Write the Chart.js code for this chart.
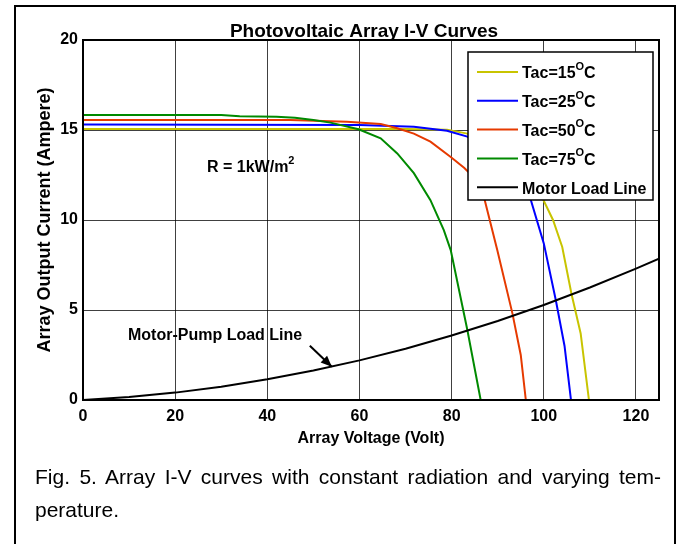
<!DOCTYPE html>
<html>
<head>
<meta charset="utf-8">
<script src="https://cdn.jsdelivr.net/npm/chart.js@4/dist/chart.umd.min.js"></script>
<style>
    body { margin: 0; background: #fff; width: 682px; height: 544px; overflow: hidden; position: relative; }
    .frame { position: absolute; left: 14px; top: 5px; width: 658px; height: 600px; border: 2px solid #000; }
    #chart { position: absolute; left: 0; top: 0; }
    .caption { position: absolute; left: 35px; width: 626px; font-family: 'Liberation Sans', Arial, sans-serif; font-size: 21px; line-height: 24px; color: #000; white-space: nowrap; }
    .justify { text-align: justify; text-align-last: justify; }
</style>
</head>
<body>
<div class="frame"></div>
<canvas id="chart" width="682" height="544"></canvas>
<div class="caption justify" style="top: 465px;">Fig. 5. Array I-V curves with constant radiation and varying tem-</div>
<div class="caption" style="top: 498px;">perature.</div>
<script>
const FONT = "'Liberation Sans', Arial, sans-serif";

// data
const chartTitle = 'Photovoltaic Array I-V Curves';
const xTitle = 'Array Voltage (Volt)';
const yTitle = 'Array Output Current (Ampere)';
const xTicks = [0, 20, 40, 60, 80, 100, 120];
const yTicks = [0, 5, 10, 15, 20];

const temps = [15, 25, 50, 75];
const colors = ['#c8c400', '#0000ff', '#e63a00', '#008a00'];

const volts15 = [0, 60, 70, 79, 83.4, 88, 92, 96, 99, 102, 104, 106, 108, 109.8];
const amps15  = [15.06, 15.06, 15.05, 15.02, 14.8, 14.4, 13.8, 12.8, 11.6, 10.0, 8.5, 5.9, 3.7, 0];

const volts25 = [0, 60, 71.8, 79, 83.4, 87, 91, 94, 97.2, 100, 102.6, 104.5, 105.9];
const amps25  = [15.3, 15.28, 15.18, 14.96, 14.63, 14.1, 13.1, 12.1, 11.1, 8.7, 5.56, 3.0, 0];

const volts50 = [0, 45, 57.3, 64.6, 68.2, 71.8, 75.4, 79.8, 82.7, 86.3, 89.9, 93.2, 95, 96.1];
const amps50  = [15.55, 15.55, 15.46, 15.33, 15.1, 14.8, 14.35, 13.5, 12.9, 12.0, 8.33, 4.8, 2.5, 0];

const volts75 = [0, 30, 34, 42, 46, 50, 53.7, 59.8, 64.6, 68.2, 71.8, 75.4, 78.3, 79.8, 83.4, 86.3];
const amps75  = [15.83, 15.83, 15.76, 15.74, 15.68, 15.55, 15.41, 15.04, 14.54, 13.7, 12.6, 11.1, 9.44, 8.33, 3.9, 0];

const loadVolts = [0, 10, 20, 30, 40, 50, 60, 70, 80, 90, 100, 110, 120, 125];
const loadAmps  = [0, 0.17, 0.41, 0.74, 1.15, 1.64, 2.2, 2.85, 3.58, 4.39, 5.28, 6.25, 7.3, 7.85];

const loadLabel = 'Motor Load Line';
const pumpLabel = 'Motor-Pump Load Line';
const pumpArrowAt = [54, 1.85];

const toPoints = (xs, ys) => xs.map((v, i) => ({ x: v, y: ys[i] }));

const series = [
    toPoints(volts15, amps15),
    toPoints(volts25, amps25),
    toPoints(volts50, amps50),
    toPoints(volts75, amps75)
];

const datasets = series.map((pts, i) => ({
    label: 'Tac=' + temps[i] + 'OC',
    data: pts,
    borderColor: colors[i],
    borderWidth: 2,
    pointRadius: 0,
    tension: 0,
    order: 5 - i
}));
datasets.push({
    label: loadLabel,
    data: toPoints(loadVolts, loadAmps),
    borderColor: '#000',
    borderWidth: 2,
    pointRadius: 0,
    tension: 0,
    order: 0
});

// text with a superscript part
function drawSup(ctx, x, y, main, sup, tail, size) {
    ctx.font = 'bold ' + size + 'px ' + FONT;
    ctx.fillText(main, x, y);
    x += ctx.measureText(main).width;
    ctx.font = 'bold ' + Math.round(size * 0.7) + 'px ' + FONT;
    ctx.fillText(sup, x, y - size * 0.45);
    x += ctx.measureText(sup).width;
    if (tail) {
        ctx.font = 'bold ' + size + 'px ' + FONT;
        ctx.fillText(tail, x, y);
    }
}

const overlay = {
    id: 'overlay',
    afterDatasetsDraw(chart) {
        const { ctx, chartArea: a, scales: { x, y } } = chart;
        ctx.save();

        // axes box
        ctx.strokeStyle = '#000';
        ctx.lineWidth = 2;
        ctx.strokeRect(a.left, a.top, a.right - a.left, a.bottom - a.top);

        // title
        ctx.fillStyle = '#000';
        ctx.textAlign = 'center';
        ctx.textBaseline = 'alphabetic';
        ctx.font = 'bold 19px ' + FONT;
        ctx.fillText(chartTitle, 364, 37);

        // irradiance note
        ctx.textAlign = 'left';
        ctx.textBaseline = 'middle';
        drawSup(ctx, 207, 168, 'R = 1kW/m', '2', '', 16);

        // load line note + arrow
        ctx.font = 'bold 16px ' + FONT;
        ctx.fillText(pumpLabel, 128, 336);
        const tx = x.getPixelForValue(pumpArrowAt[0]);
        const ty = y.getPixelForValue(pumpArrowAt[1]);
        const sx = tx - 22, sy = ty - 21;
        ctx.lineWidth = 2;
        ctx.beginPath();
        ctx.moveTo(sx, sy);
        ctx.lineTo(tx, ty);
        ctx.stroke();
        const ang = Math.atan2(ty - sy, tx - sx);
        ctx.beginPath();
        ctx.moveTo(tx, ty);
        ctx.lineTo(tx - 12 * Math.cos(ang - 0.4), ty - 12 * Math.sin(ang - 0.4));
        ctx.lineTo(tx - 12 * Math.cos(ang + 0.4), ty - 12 * Math.sin(ang + 0.4));
        ctx.closePath();
        ctx.fill();

        // legend
        const lx = a.right - 191, ly = a.top + 12, lw = 185, lh = 148;
        ctx.fillStyle = '#fff';
        ctx.fillRect(lx, ly, lw, lh);
        ctx.strokeStyle = '#000';
        ctx.lineWidth = 1.5;
        ctx.strokeRect(lx, ly, lw, lh);
        const rows = temps.map((t, i) => ({ color: colors[i], main: 'Tac=' + t, sup: 'O', tail: 'C' }));
        rows.push({ color: '#000', main: loadLabel, sup: '', tail: '' });
        rows.forEach((r, i) => {
            const ry = ly + 20 + i * 28.8;
            ctx.strokeStyle = r.color;
            ctx.lineWidth = 2;
            ctx.beginPath();
            ctx.moveTo(lx + 9, ry);
            ctx.lineTo(lx + 50, ry);
            ctx.stroke();
            ctx.fillStyle = '#000';
            drawSup(ctx, lx + 54, ry + 2, r.main, r.sup, r.tail, 16);
        });

        ctx.restore();
    }
};

new Chart(document.getElementById('chart'), {
    type: 'line',
    data: { datasets },
    options: {
        responsive: false,
        animation: false,
        layout: { padding: { left: 0, top: 40, right: 23, bottom: 94 } },
        plugins: { legend: { display: false }, tooltip: { enabled: false }, title: { display: false } },
        scales: {
            x: {
                type: 'linear',
                min: 0,
                max: 125,
                afterBuildTicks: (axis) => { axis.ticks = xTicks.map(v => ({ value: v })); },
                afterFit: (s) => { s.height = 50; },
                grid: { color: 'rgba(0,0,0,0.75)', lineWidth: 1, drawTicks: false },
                border: { display: false },
                ticks: { color: '#000', padding: 7, maxRotation: 0, font: { family: FONT, size: 16, weight: 'bold' } },
                title: { display: true, text: xTitle, color: '#000', padding: { top: 0, bottom: 2 }, font: { family: FONT, size: 16, weight: 'bold' } }
            },
            y: {
                type: 'linear',
                min: 0,
                max: 20,
                afterBuildTicks: (axis) => { axis.ticks = yTicks.map(v => ({ value: v })); },
                afterFit: (s) => { s.width = 83; },
                grid: { color: 'rgba(0,0,0,0.75)', lineWidth: 1, drawTicks: false },
                border: { display: false },
                ticks: { color: '#000', padding: 5, font: { family: FONT, size: 16, weight: 'bold' } },
                title: { display: true, text: yTitle, color: '#000', padding: { top: 34, bottom: 0 }, font: { family: FONT, size: 18, weight: 'bold' } }
            }
        }
    },
    plugins: [overlay]
});
</script>
</body>
</html>
